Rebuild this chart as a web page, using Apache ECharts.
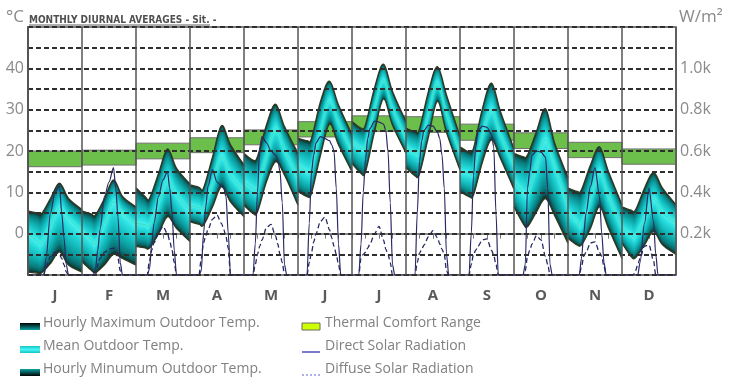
<!DOCTYPE html>
<html><head><meta charset="utf-8">
<script src="https://cdn.jsdelivr.net/npm/echarts@6/dist/echarts.min.js"></script>
<style>html,body{margin:0;padding:0;background:#fff}#c{width:730px;height:386px}</style>
</head><body><div id="c"></div>
<script>
// ---------------- data ----------------
const months = ['J','F','M','A','M','J','J','A','S','O','N','D'];
const tempHours = [0, 4, 6, 10, 14, 18, 24];
const tMax = [
  [5.5, 5.0, 4.8, 8.5, 12.2, 8.5, 5.8],
  [5.5, 4.8, 4.5, 8.5, 13.0, 9.0, 6.5],
  [11.1, 9.0, 8.5, 14.5, 20.5, 15.8, 12.0],
  [11.8, 11.2, 11.0, 18.5, 26.1, 21.5, 16.6],
  [19.4, 17.8, 18.6, 26.3, 31.3, 25.9, 19.4],
  [23.1, 22.5, 23.0, 31.9, 36.9, 31.1, 23.9],
  [27.1, 25.5, 26.3, 35.2, 41.0, 34.4, 27.1],
  [25.5, 24.7, 25.3, 34.4, 40.4, 33.5, 23.5],
  [21.0, 19.8, 20.6, 30.3, 36.4, 29.5, 20.5],
  [19.4, 18.6, 19.0, 24.7, 30.2, 22.0, 13.5],
  [11.0, 10.2, 10.6, 16.6, 21.0, 15.0, 7.0],
  [6.5, 5.7, 5.7, 11.0, 14.8, 11.0, 7.0]
];
const tMean = [
  [0.0, -1.8, -2.3, 2.1, 6.3, 3.7, 0.5],
  [0.5, -1.5, -2.3, 2.5, 7.7, 5.0, 2.1],
  [2.5, 2.2, 2.1, 7.5, 13.0, 9.4, 5.3],
  [6.9, 6.3, 6.1, 12.0, 18.6, 14.2, 10.2],
  [12.6, 11.0, 11.0, 18.6, 25.3, 20.2, 13.4],
  [16.6, 15.0, 15.8, 24.7, 32.3, 27.1, 19.8],
  [22.3, 20.6, 21.5, 30.3, 37.2, 30.3, 23.1],
  [21.0, 19.5, 20.0, 29.0, 36.5, 29.0, 19.5],
  [15.0, 14.6, 15.0, 23.9, 29.9, 23.9, 16.6],
  [12.6, 10.2, 9.8, 16.6, 22.7, 17.0, 6.5],
  [5.3, 2.9, 2.1, 8.5, 15.0, 9.4, 1.5],
  [1.3, -0.3, -0.7, 3.7, 8.3, 5.0, 2.5]
];
const tMin = [
  [-9.3, -9.5, -9.5, -7.2, -4.4, -7.6, -9.3],
  [-6.8, -8.8, -9.4, -7.5, -5.0, -6.0, -7.6],
  [-3.1, -3.4, -3.5, 0.0, 4.1, 1.3, -1.9],
  [2.9, 2.3, 2.1, 6.5, 11.4, 7.7, 4.1],
  [6.9, 4.9, 5.3, 12.6, 17.4, 14.2, 6.9],
  [10.2, 9.0, 9.8, 19.0, 26.5, 21.5, 15.0],
  [17.0, 14.6, 15.0, 24.7, 32.6, 26.3, 19.5],
  [16.0, 14.0, 14.5, 23.5, 32.0, 24.5, 15.4],
  [10.2, 9.0, 9.4, 17.4, 22.7, 18.2, 10.8],
  [6.5, 2.5, 1.7, 5.3, 8.5, 4.5, -2.3],
  [-1.1, -2.7, -2.7, 1.3, 6.5, 1.3, -6.0],
  [-2.3, -5.5, -5.8, -2.7, 0.5, -2.7, -5.0]
];
const comfortLow  = [16.2, 16.6, 18.1, 19.6, 21.5, 23.4, 24.7, 24.5, 22.6, 20.6, 18.4, 16.8];
const comfortHigh = [20.0, 20.2, 21.9, 23.2, 25.1, 27.1, 28.5, 28.3, 26.5, 24.4, 22.1, 20.5];
const solarHours = [0, 3, 4, 5, 6, 7, 8, 10, 12, 14, 15, 16, 17, 18, 19];
const directSolar = [
  [0,0,0,0,0,0,80,300,400,430,300,180,50,0,0],
  [0,0,0,0,30,120,220,380,450,520,420,280,60,0,0],
  [0,0,0,0,30,150,250,380,460,500,420,300,120,0,0],
  [0,0,0,20,200,330,430,510,450,430,420,380,200,0,0],
  [0,0,0,150,400,620,670,640,600,580,560,500,350,50,0],
  [0,0,0,250,500,580,640,670,660,650,630,600,420,150,0],
  [0,0,150,400,560,660,710,745,740,730,700,600,350,50,0],
  [0,0,0,300,550,650,700,725,720,690,660,580,420,100,0],
  [0,0,0,200,480,620,700,720,715,680,620,300,0,0,0],
  [0,0,0,50,420,500,580,600,595,570,420,50,0,0,0],
  [0,0,0,0,80,200,300,430,520,380,200,60,0,0,0],
  [0,0,0,0,0,0,60,250,420,260,100,0,0,0,0]
];
const diffuseSolar = [
  [0,0,0,0,0,0,40,90,110,100,80,50,15,0,0],
  [0,0,0,0,0,50,80,110,125,130,115,80,20,0,0],
  [0,0,0,0,70,120,155,205,235,200,165,120,60,0,0],
  [0,0,0,80,155,190,220,270,290,250,220,185,130,0,0],
  [0,0,0,50,100,140,170,230,245,190,150,100,60,0,0],
  [0,0,0,60,110,160,200,260,280,220,180,140,100,50,0],
  [0,0,80,100,110,130,150,200,235,170,125,100,60,0,0],
  [0,0,0,60,105,125,145,185,215,180,150,125,100,20,0],
  [0,0,0,50,100,120,140,170,175,120,95,50,0,0,0],
  [0,0,0,20,90,120,150,190,170,90,50,0,0,0,0],
  [0,0,0,0,40,90,110,155,160,110,90,40,0,0,0],
  [0,0,0,0,20,50,80,140,145,70,0,0,0,0,0]
];
const leftTicks = [0, 10, 20, 30, 40];
const rightTicks = [200, 400, 600, 800, 1000];
const legendLeft = ['Hourly Maximum Outdoor Temp.', 'Mean Outdoor Temp.', 'Hourly Minumum Outdoor Temp.'];
const legendRight = ['Thermal Comfort Range', 'Direct Solar Radiation', 'Diffuse Solar Radiation'];

// ---------------- helpers ----------------
const FONT = '"Open Sans", "Noto Sans", sans-serif';
const rampStops = [[0,'#0e3a33'],[0.05,'#0a5858'],[0.16,'#0a7e80'],[0.36,'#0ea6a8'],[0.6,'#1ac8ca'],[0.82,'#2ee2e2'],[1,'#52f4f2']];
function hex(c){return [parseInt(c.slice(1,3),16),parseInt(c.slice(3,5),16),parseInt(c.slice(5,7),16)];}
function ramp(f){
  for(let i=0;i<rampStops.length-1;i++){
    const [a,ca]=rampStops[i],[b,cb]=rampStops[i+1];
    if(f<=b){const t=(f-a)/(b-a);const A=hex(ca),B=hex(cb);
      return 'rgb('+A.map((v,j)=>Math.round(v+(B[j]-v)*t)).join(',')+')';}
  }
  return rampStops[rampStops.length-1][1];
}
function curveSeg(pts){
  let d='';
  for(let i=0;i<pts.length-1;i++){
    const p0=pts[i-1]||pts[i],p1=pts[i],p2=pts[i+1],p3=pts[i+2]||pts[i+1];
    const c1x=p1[0]+(p2[0]-p0[0])/6,c1y=p1[1]+(p2[1]-p0[1])/6;
    const c2x=p2[0]-(p3[0]-p1[0])/6,c2y=p2[1]-(p3[1]-p1[1])/6;
    d+='C'+c1x.toFixed(2)+','+c1y.toFixed(2)+','+c2x.toFixed(2)+','+c2y.toFixed(2)+','+p2[0].toFixed(2)+','+p2[1].toFixed(2);
  }
  return d;
}
function openPath(pts){return 'M'+pts[0][0].toFixed(2)+','+pts[0][1].toFixed(2)+curveSeg(pts);}

const monthItems = months.map((_,i)=>[i*24, 0, i]);

function bandItem(params, api){
  const m = api.value(2);
  const mx=tMax[m], mn=tMin[m], me=tMean[m];
  const coords = arr => tempHours.map((h,i)=>api.coord([m*24+h, arr[i]]));
  const children=[];
  const N=18;
  for(let k=0;k<N;k++){
    const f=k/N;
    const up=mx.map((v,i)=>v-f*(v-me[i]));
    const lo=mn.map((v,i)=>v+f*(me[i]-v));
    const U=coords(up), L=coords(lo).reverse();
    const d=openPath(U)+'L'+L[0][0].toFixed(2)+','+L[0][1].toFixed(2)+curveSeg(L)+'Z';
    children.push({type:'path',shape:{pathData:d},style:{fill:ramp(f),stroke:null}});
  }
  children.push({type:'path',shape:{pathData:openPath(coords(me))},style:{fill:null,stroke:'#3cdcb8',lineWidth:1}});
  children.push({type:'path',shape:{pathData:openPath(coords(mx))},style:{fill:null,stroke:'#2e3a22',lineWidth:1.4}});
  children.push({type:'path',shape:{pathData:openPath(coords(mn))},style:{fill:null,stroke:'#2e3a22',lineWidth:1.4}});
  return {type:'group',children};
}
function comfortItem(params, api){
  const m=api.value(2);
  const p1=api.coord([m*24, comfortHigh[m]]), p2=api.coord([m*24+24, comfortLow[m]]);
  return {type:'rect',shape:{x:p1[0],y:p1[1],width:p2[0]-p1[0],height:p2[1]-p1[1]},
    style:{fill:'#6cbf4b',stroke:'#6f6f6f',lineWidth:1}};
}
function solarData(arr){
  const out=[];
  arr.forEach((row,m)=>row.forEach((v,i)=>out.push([m*24+solarHours[i], v])));
  out.push([288,0]);
  return out;
}

// ---------------- chart ----------------
const chart = echarts.init(document.getElementById('c'), null, {renderer:'canvas'});
const lgSwatchY=[323,346,369], lgTextY=[326,349,372];
const graphic=[
  {type:'text',left:6,top:9,style:{text:'°C',font:'17px '+FONT,fill:'#8a8a8a'}},
  {type:'text',left:679,top:9,style:{text:'W/m²',font:'17px '+FONT,fill:'#8a8a8a'}},
  {type:'text',left:29,top:15,style:{text:'MONTHLY DIURNAL AVERAGES - Sit. -',font:'bold 10px "Liberation Sans Narrow", "DejaVu Sans Condensed", sans-serif',fill:'#505050'}},
  {type:'line',shape:{x1:29,y1:25,x2:210,y2:25},style:{stroke:'#606060',lineWidth:1}},
  {type:'rect',shape:{x:20,y:lgSwatchY[0],width:20,height:7},style:{fill:{type:'linear',x:0,y:0,x2:0,y2:1,colorStops:[{offset:0,color:'#000'},{offset:0.45,color:'#074a4a'},{offset:1,color:'#0aa4a4'}]}}},
  {type:'rect',shape:{x:20,y:lgSwatchY[1],width:20,height:7},style:{fill:{type:'linear',x:0,y:0,x2:0,y2:1,colorStops:[{offset:0,color:'#14c4c4'},{offset:0.5,color:'#48f4f4'},{offset:1,color:'#14c4c4'}]}}},
  {type:'rect',shape:{x:20,y:lgSwatchY[2],width:20,height:7},style:{fill:{type:'linear',x:0,y:0,x2:0,y2:1,colorStops:[{offset:0,color:'#0aa4a4'},{offset:0.55,color:'#074a4a'},{offset:1,color:'#000'}]}}},
  {type:'rect',shape:{x:302,y:lgSwatchY[0],width:18,height:7},style:{fill:'#ccff00',stroke:'#6a6a6a',lineWidth:1}},
  {type:'line',shape:{x1:302,y1:352,x2:320,y2:352},style:{stroke:'#7a7ac8',lineWidth:2}},
  {type:'line',shape:{x1:302,y1:375,x2:320,y2:375},style:{stroke:'#6060d0',lineWidth:1.2,lineDash:[2,2]}}
];
legendLeft.forEach((t,i)=>graphic.push({type:'text',left:43,top:lgTextY[i]-10,style:{text:t,font:'14px '+FONT,fill:'#808080'}}));
legendRight.forEach((t,i)=>graphic.push({type:'text',left:325,top:lgTextY[i]-10,style:{text:t,font:'14px '+FONT,fill:'#808080'}}));

chart.setOption({
  animation:false,
  backgroundColor:'#fff',
  grid:{left:28,right:54,top:27,bottom:111,show:true,borderColor:'#555',borderWidth:1.5,backgroundColor:'transparent'},
  xAxis:[
    {type:'value',min:0,max:288,interval:6,position:'bottom',
     axisLine:{show:true,lineStyle:{color:'#666',width:1.5}},
     axisTick:{show:true,length:5,lineStyle:{color:'#777',width:1}},
     splitLine:{show:false},
     axisLabel:{showMinLabel:true,showMaxLabel:true,margin:13,fontSize:15,fontWeight:'bold',color:'#5a5a5a',fontFamily:FONT,
       formatter:v=>(v%24===12)?months[(v-12)/24]:''}},
    {type:'value',min:0,max:288,interval:24,position:'top',z:6,
     axisLine:{show:false},axisTick:{show:false},axisLabel:{show:false},
     splitLine:{show:true,lineStyle:{color:'#555',width:1.5}}}
  ],
  yAxis:[
    {type:'value',min:-10,max:50,interval:5,position:'left',z:5,
     axisLine:{show:true,lineStyle:{color:'#555',width:1.5}},axisTick:{show:false},
     axisLabel:{margin:4,fontSize:16,color:'#8a8a8a',fontFamily:FONT,formatter:v=>leftTicks.includes(v)?String(v):''},
     splitLine:{show:true,lineStyle:{color:'#2e2e2e',type:[5,3],width:2}}},
    {type:'value',min:0,max:1200,interval:200,position:'right',z:5,
     axisLine:{show:true,lineStyle:{color:'#555',width:1.5}},axisTick:{show:false},
     axisLabel:{margin:4,fontSize:16,color:'#8a8a8a',fontFamily:FONT,formatter:v=>rightTicks.includes(v)?(v/1000).toFixed(1)+'k':''},
     splitLine:{show:false}}
  ],
  series:[
    {type:'custom',name:'Thermal Comfort Range',xAxisIndex:0,yAxisIndex:0,z:1,clip:true,data:monthItems,renderItem:comfortItem},
    {type:'custom',name:'Outdoor Temp.',xAxisIndex:0,yAxisIndex:0,z:2,clip:true,data:monthItems,renderItem:bandItem},
    {type:'line',name:'Diffuse Solar Radiation',xAxisIndex:0,yAxisIndex:1,z:3,symbol:'none',smooth:0.3,smoothMonotone:'x',
     data:solarData(diffuseSolar),lineStyle:{color:'#262660',width:1.3,type:[5,3]}},
    {type:'line',name:'Direct Solar Radiation',xAxisIndex:0,yAxisIndex:1,z:3,symbol:'none',smooth:0.3,smoothMonotone:'x',
     data:solarData(directSolar),lineStyle:{color:'#2a2a66',width:1.2}}
  ],
  graphic:graphic
});
</script></body></html>
